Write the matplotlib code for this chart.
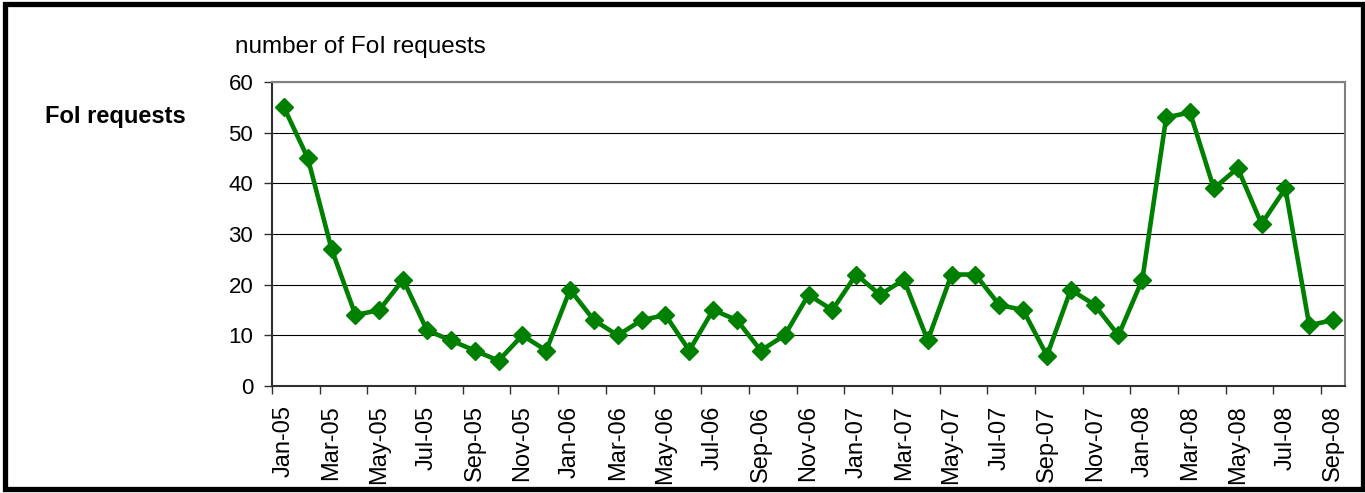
import matplotlib.pyplot as plt
from matplotlib.patches import Rectangle

plt.switch_backend('Agg')
plt.rcParams['font.family'] = ['Liberation Sans', 'DejaVu Sans']

# Datos mensuales Jan-05 .. Sep-08
meses = ['Jan-05', 'Feb-05', 'Mar-05', 'Apr-05', 'May-05', 'Jun-05', 'Jul-05', 'Aug-05',
         'Sep-05', 'Oct-05', 'Nov-05', 'Dec-05',
         'Jan-06', 'Feb-06', 'Mar-06', 'Apr-06', 'May-06', 'Jun-06', 'Jul-06', 'Aug-06',
         'Sep-06', 'Oct-06', 'Nov-06', 'Dec-06',
         'Jan-07', 'Feb-07', 'Mar-07', 'Apr-07', 'May-07', 'Jun-07', 'Jul-07', 'Aug-07',
         'Sep-07', 'Oct-07', 'Nov-07', 'Dec-07',
         'Jan-08', 'Feb-08', 'Mar-08', 'Apr-08', 'May-08', 'Jun-08', 'Jul-08', 'Aug-08',
         'Sep-08']
solicitudes = [55, 45, 27, 14, 15, 21, 11, 9, 7, 5, 10, 7,
               19, 13, 10, 13, 14, 7, 15, 13, 7, 10, 18, 15,
               22, 18, 21, 9, 22, 22, 16, 15, 6, 19, 16, 10,
               21, 53, 54, 39, 43, 32, 39, 12, 13]
y_ticks = [0, 10, 20, 30, 40, 50, 60]

fig = plt.figure(figsize=(13.65, 4.93), dpi=100)
W, H = 1365, 493
ax = fig.add_axes([272 / W, 1 - 386 / H, (1345 - 272) / W, (386 - 82) / H])

n = len(meses)
xs = [i + 0.5 for i in range(n)]
ax.plot(xs, solicitudes, color='#008000', linewidth=3.3, marker='D', markersize=9.5,
        markerfacecolor='#008000', markeredgecolor='#008000', zorder=3, clip_on=False)

ax.set_xlim(0, n)
ax.set_ylim(0, 60)
ax.set_yticks(y_ticks)
ax.yaxis.grid(True, color='black', linewidth=0.8)
ax.set_axisbelow(True)

# Ticks en los bordes de categoria, etiquetas centradas
ax.set_xticks(list(range(0, n, 2)))
ax.set_xticklabels([])
ax.set_xticks([i + 0.5 for i in range(0, n, 2)], minor=True)
ax.set_xticklabels(meses[::2], minor=True, rotation=90, fontsize=17)
ax.tick_params(axis='x', which='major', length=5.5, width=1, color='#303030')
ax.tick_params(axis='x', which='minor', length=0, pad=14)
ax.tick_params(axis='y', length=5.5, width=1, color='#303030', pad=8, labelsize=16)

for s in ['top', 'right']:
    ax.spines[s].set_color('#808080')
    ax.spines[s].set_linewidth(1.5)
for s in ['left', 'bottom']:
    ax.spines[s].set_color('#303030')
    ax.spines[s].set_linewidth(1.5)

fig.text(235 / W, 1 - 47 / H, 'number of FoI requests', fontsize=17.5, va='center', ha='left')
fig.text(45 / W, 1 - 116 / H, 'FoI requests', fontsize=17, fontweight='bold',
         va='center', ha='left')

# Marco exterior
fig.patches.append(Rectangle((4.5 / W, 1 - 489 / H), (1363 - 4.5) / W, (489 - 3.5) / H,
                             transform=fig.transFigure, fill=False, edgecolor='black',
                             linewidth=3.8))

fig.savefig('out.png', dpi=100)
plt.close(fig)
